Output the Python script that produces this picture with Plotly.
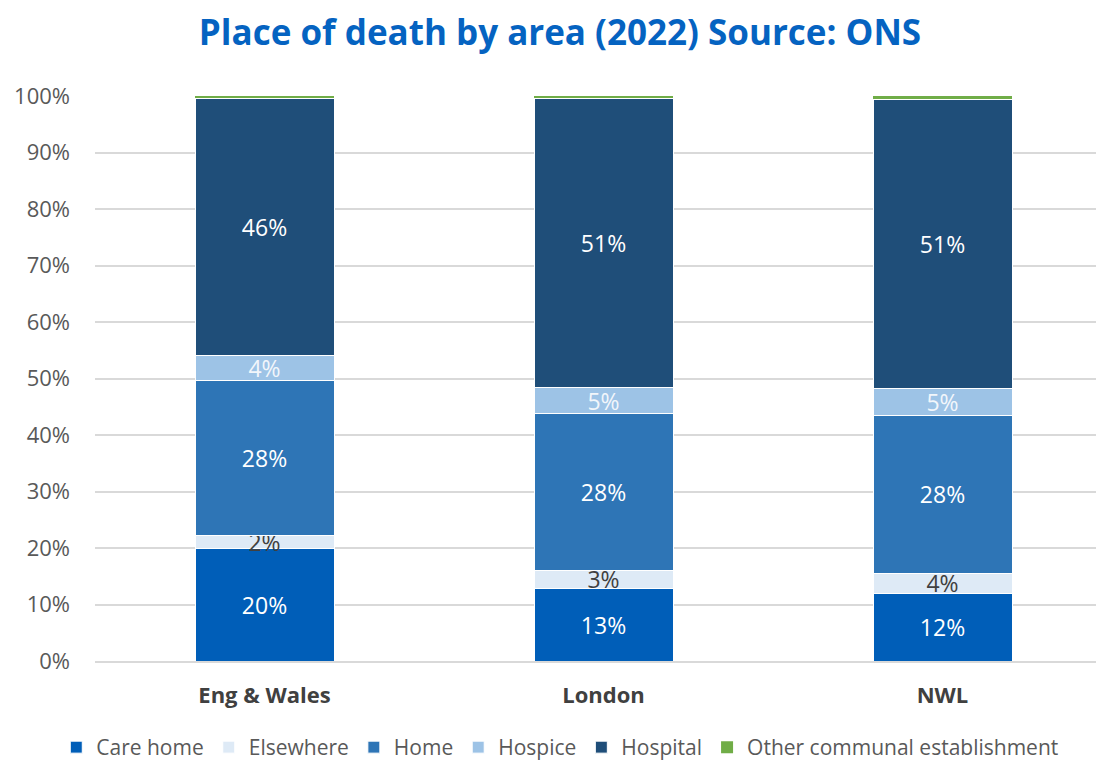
import plotly.graph_objects as go

areas = ["Eng & Wales", "London", "NWL"]
series_names = ["Care home", "Elsewhere", "Home", "Hospice", "Hospital", "Other communal establishment"]
care_home = [0.200, 0.129, 0.120]
elsewhere = [0.022, 0.032, 0.035]
home = [0.275, 0.277, 0.280]
hospice = [0.043, 0.046, 0.047]
hospital = [0.456, 0.512, 0.512]
other = [0.004, 0.004, 0.006]

values = [care_home, elsewhere, home, hospice, hospital, other]
colors = ["#005EB8", "#DEEAF6", "#2E75B6", "#9DC3E6", "#1F4E79", "#70AD47"]
text_colors = ["#FFFFFF", "#404040", "#FFFFFF", "#F2F6FB", "#FFFFFF", "#FFFFFF"]

fig = go.Figure()
for name, vals, col, tcol in zip(series_names, values, colors, text_colors):
    show = name != "Other communal establishment"
    fig.add_trace(go.Bar(
        name=name, x=areas, y=vals,
        marker=dict(color=col, line=dict(color="#FFFFFF" if show else col, width=1 if show else 0)),
        texttemplate="%{y:.0%}" if show else "",
        textposition="inside" if show else "none",
        insidetextanchor="middle",
        constraintext="none",
        textfont=dict(color=tcol, size=23, family="Open Sans"),
        hoverinfo="skip",
    ))

fig.update_layout(
    barmode="stack",
    bargap=0.59,
    width=1104, height=760,
    paper_bgcolor="white", plot_bgcolor="white",
    margin=dict(l=87, r=0, t=88, b=106),
    title=dict(text="<b>Place of death by area (2022) Source: ONS</b>",
               x=0.5, xanchor="center", y=0.968, yanchor="middle",
               font=dict(family="Open Sans", size=35, color="#0563C1")),
    font=dict(family="Open Sans", color="#595959"),
    legend=dict(orientation="h", x=0.457, xanchor="center", y=-0.116, yanchor="top",
                font=dict(size=21, color="#595959"), traceorder="normal",
                itemwidth=30, tracegroupgap=0),
)
fig.update_yaxes(range=[0, 1], tickformat=".0%", dtick=0.1,
                 gridcolor="#D9D9D9", gridwidth=1.5,
                 tickfont=dict(size=22, color="#595959"), ticks="", zeroline=False,
                 showline=False, ticklabelstandoff=24)
fig.update_xaxes(tickfont=dict(size=22, color="#404040", family="Open Sans"),
                 showline=True, linecolor="#D9D9D9", linewidth=1.5,
                 tickprefix="<b>", ticksuffix="</b>", ticklabelstandoff=14)

fig.write_html("out.html")
